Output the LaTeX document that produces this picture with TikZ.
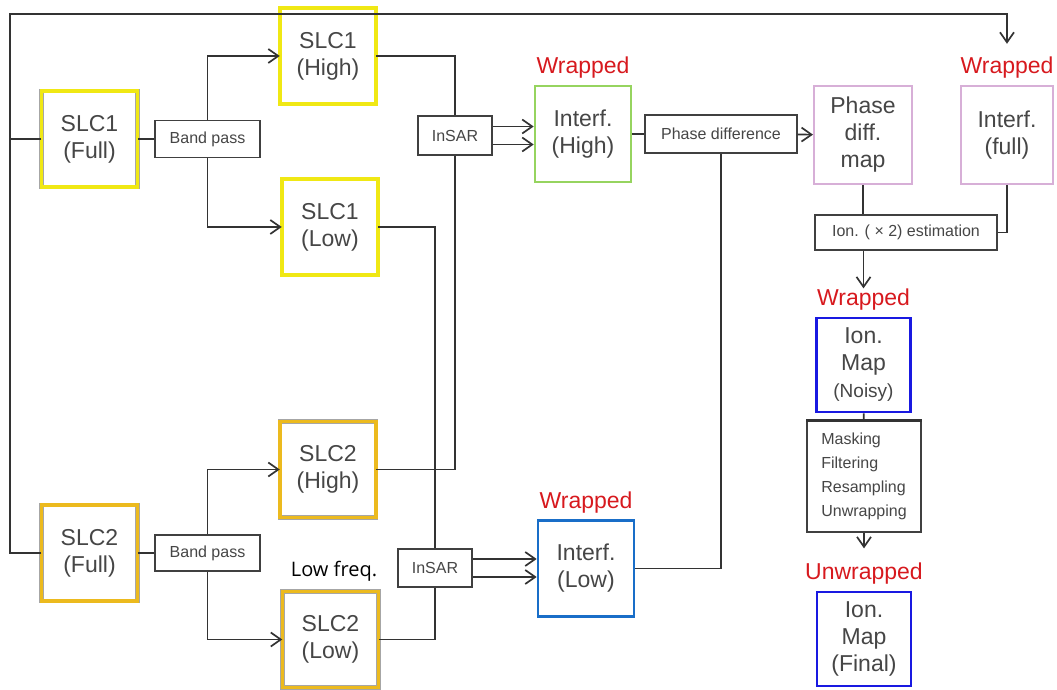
\documentclass[tikz,border=0pt]{standalone}
\usepackage{fontspec}
\setmainfont{Liberation Sans}
\newfontfamily\lowfont{Open Sans}
\usepackage{tikz}
\usetikzlibrary{arrows.meta, positioning, calc}
\usepackage{xcolor}
\definecolor{SlcYellow}{RGB}{240,232,20}
\definecolor{SlcGold}{RGB}{236,186,30}
\definecolor{IntGreen}{RGB}{150,212,95}
\definecolor{IntBlue}{RGB}{25,110,200}
\definecolor{MapPink}{RGB}{215,175,215}
\definecolor{IonBlue}{RGB}{25,25,225}
\definecolor{WrapRed}{RGB}{215,25,30}
\definecolor{TextGray}{RGB}{70,70,70}
\tikzset{
  basebox/.style={rectangle,fill=white,align=center,text=TextGray,
    font=\fontsize{11.5}{13.5}\selectfont,inner sep=1pt,
    minimum width=48pt,minimum height=48pt},
  slcbox/.style={basebox,draw=black!35,line width=0.25pt,
    double=#1,double distance=1.6pt},
  intbox/.style={basebox,draw=#1,line width=1.3pt},
  mapbox/.style={basebox,draw=MapPink,line width=1pt,
    minimum width=49pt,minimum height=49pt},
  ionbox/.style={basebox,draw=IonBlue,line width=1.4pt,
    minimum width=47pt,minimum height=47pt},
  opbox/.style={rectangle,draw=black!75,line width=0.7pt,fill=white,
    text=TextGray,font=\fontsize{8}{9.6}\selectfont,inner sep=1pt},
  statelbl/.style={text=WrapRed,font=\fontsize{11.5}{13}\selectfont,inner sep=0pt},
  wire/.style={line width=0.85pt,color=black!80},
  arrow/.style={wire,-{Straight Barb[length=5pt,width=7pt]}}
}
\begin{document}
\begin{tikzpicture}[x=0.5pt,y=-0.5pt,node distance=3pt]
  \useasboundingbox (0,0) rectangle (1057,690);
  % SLC inputs
  \node[slcbox=SlcYellow] (slc1full) at (89.5,139) {SLC1\\(Full)};
  \node[slcbox=SlcYellow] (slc1high) at (328,56) {SLC1\\(High)};
  \node[slcbox=SlcYellow] (slc1low) at (330,227) {SLC1\\(Low)};
  \node[slcbox=SlcGold] (slc2full) at (89.5,553) {SLC2\\(Full)};
  \node[slcbox=SlcGold] (slc2high) at (328,469.5) {SLC2\\(High)};
  \node[slcbox=SlcGold] (slc2low) at (330.5,639.5) {SLC2\\(Low)};
  \node[font=\lowfont\fontsize{10}{12}\selectfont,inner sep=0pt] (lowfreq) at (334,571) {Low freq.};
  % operations
  \node[opbox,minimum width=52.5pt,minimum height=18.5pt] (bp1) at (207.5,139) {Band pass};
  \node[opbox,minimum width=52.5pt,minimum height=18pt] (bp2) at (207.5,553) {Band pass};
  \node[opbox,minimum width=37pt,minimum height=19.5pt] (insar1) at (455,135.5) {InSAR};
  \node[opbox,minimum width=37pt,minimum height=19pt] (insar2) at (435,568) {InSAR};
  \node[opbox,minimum width=76pt,minimum height=19pt] (phdiff) at (721,134) {Phase difference};
  \node[opbox,minimum width=91pt,minimum height=17.5pt] (ionest) at (906,232.5) {Ion. ( × 2) estimation};
  \node[opbox,align=left,minimum width=57pt,minimum height=55.5pt,
    font=\fontsize{8}{12}\selectfont] (mask) at (864,476.5) {Masking\\Filtering\\Resampling\\Unwrapping};
  \draw[line width=1.6pt,black!80] (mask.north west) -- (mask.north east);
  % interferograms and maps
  \node[intbox=IntGreen] (inthigh) at (583,134) {Interf.\\(High)};
  \node[intbox=IntBlue] (intlow) at (586,568.5) {Interf.\\(Low)};
  \node[mapbox] (pdmap) at (863,135) {Phase\\diff.\\map};
  \node[mapbox,minimum width=46pt] (intfull) at (1007,135) {Interf.\\(full)};
  \node[ionbox] (ionnoisy) at (863.5,365) {Ion.\\Map\\{\fontsize{9.5}{11}\selectfont(Noisy)}};
  \node[ionbox] (ionfinal) at (864,639) {Ion.\\Map\\(Final)};
  % state labels
  \node[statelbl,above=of inthigh] (wHigh) {Wrapped};
  \node[statelbl,above=of intlow] (wLow) {Wrapped};
  \node[statelbl,above=of intfull] (wFull) {Wrapped};
  \node[statelbl,above=of ionnoisy] (wNoisy) {Wrapped};
  \node[statelbl,above=of ionfinal] (uwFinal) {Unwrapped};
  \coordinate (bus) at (10,14);
  % connectors
  \draw[arrow,shorten >=6.5pt] (slc1full.west) -| (bus) -| (wFull.north);
  \draw[wire] (slc2full.west) -| (bus);
  \foreach \a/\b in {slc1full/bp1,slc2full/bp2,inthigh/phdiff}
    \draw[wire] (\a)--(\b);
  \foreach \a/\b in {bp1/slc1high,bp2/slc2high}
    \draw[arrow] (\a.north) |- (\b);
  \foreach \a/\b in {bp1/slc1low,bp2/slc2low}
    \draw[arrow] (\a.south) |- (\b);
  \draw[wire] (slc1high.east) -| (insar1.north);
  \draw[wire] (slc2high.east) -| (insar1.south);
  \draw[wire] (slc1low.east) -| (insar2.north);
  \draw[wire] (slc2low.east) -| (insar2.south);
  \foreach \d in {4.5pt,-4.5pt}{
    \draw[arrow] ([yshift=\d]insar1.east) -- ([yshift=\d]insar1.east -| inthigh.west);
    \draw[arrow] ([yshift=\d]insar2.east) -- ([yshift=\d]insar2.east -| intlow.west);
  }
  \draw[arrow] (phdiff) -- (pdmap);
  \draw[wire] (intlow.east) -| (phdiff.south);
  \draw[wire] (pdmap.south) -- (pdmap.south |- ionest.north);
  \draw[wire] (intfull.south) |- (ionest.east);
  \draw[arrow] (ionest.south -| wNoisy.north) -- (wNoisy.north);
  \draw[wire] (ionnoisy) -- (mask);
  \draw[arrow,shorten >=7pt] (mask.south) -- (uwFinal.north);
\end{tikzpicture}
\end{document}
